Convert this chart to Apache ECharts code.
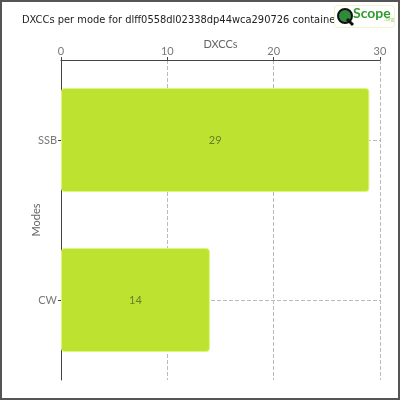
<!DOCTYPE html>
<html>
<head>
<meta charset="utf-8">
<script src="https://cdn.jsdelivr.net/npm/echarts@6/dist/echarts.min.js"></script>
<style>
  html, body { margin: 0; padding: 0; background: #fff; }
  #main { width: 396px; height: 396px; border: 2px solid #555; }
</style>
</head>
<body>
<div id="main"></div>
<script>
// chart data
var modes = ['SSB', 'CW'];
var dxccs = [29, 14];
var xTicks = [0, 10, 20, 30];

var font = 'Lato, "Open Sans", sans-serif';
var chart = echarts.init(document.getElementById('main'));

var option = {
    animation: false,
    textStyle: { fontFamily: font },
    title: {
        text: 'DXCCs per mode for dlff0558dl02338dp44wca290726 containe',
        left: 15,
        top: 8,
        textStyle: { fontSize: 11, fontWeight: 'normal', color: '#222', fontFamily: '"DejaVu Sans Condensed", sans-serif' }
    },
    graphic: [{
        type: 'rect',
        left: 332, top: 3,
        shape: { width: 60, height: 22, r: 3 },
        style: { fill: '#fff', stroke: '#eef5c8', lineWidth: 1 },
        z: 100
    }, {
        type: 'circle',
        left: 335, top: 6,
        shape: { r: 7 },
        style: { fill: '#2e8b3a', stroke: '#111', lineWidth: 2 },
        z: 101
    }, {
        type: 'line',
        shape: { x1: 345, y1: 17, x2: 351, y2: 23 },
        style: { stroke: '#111', lineWidth: 3 },
        z: 101
    }, {
        type: 'text',
        left: 351, top: 4,
        style: { text: 'Scope', fill: '#2d9b2d', fontSize: 14, fontWeight: 'bold', fontFamily: font },
        z: 101
    }, {
        type: 'text',
        left: 382, top: 14,
        style: { text: '.org', fill: '#9ccf6a', fontSize: 6, fontFamily: font },
        z: 101
    }],
    grid: { left: 59, right: 18, top: 58, bottom: 18 },
    xAxis: {
        type: 'value',
        position: 'top',
        min: 0, max: 30, interval: 10,
        name: 'DXCCs',
        nameLocation: 'middle',
        nameGap: 10,
        nameMoveOverlap: false,
        nameTextStyle: { color: '#666', fontSize: 11 },
        axisLine: { show: true, lineStyle: { color: '#444' } },
        axisTick: { show: true, length: 3, lineStyle: { color: '#444' } },
        axisLabel: {
            margin: 3, color: '#777', fontSize: 11,
            customValues: xTicks
        },
        splitLine: { show: true, lineStyle: { type: 'dashed', color: '#bbb' } }
    },
    yAxis: {
        type: 'category',
        data: modes,
        inverse: true,
        name: 'Modes',
        nameLocation: 'middle',
        nameGap: 19,
        nameMoveOverlap: false,
        nameTextStyle: { color: '#666', fontSize: 11 },
        axisLine: { show: true, lineStyle: { color: '#444' } },
        axisTick: { show: true, alignWithLabel: true, length: 3, lineStyle: { color: '#444' } },
        axisLabel: { margin: 4, color: '#777', fontSize: 11 },
        splitLine: { show: false }
    },
    series: [{
        name: 'DXCCs',
        type: 'bar',
        data: dxccs,
        barWidth: '65%',
        itemStyle: {
            color: '#bde22f',
            borderColor: '#dcf77a',
            borderWidth: 1,
            borderRadius: 3
        },
        label: {
            show: true,
            position: 'inside',
            color: '#6a7d2a',
            fontSize: 11
        },
        markLine: {
            silent: true,
            symbol: 'none',
            label: { show: false },
            lineStyle: { type: 'dashed', color: '#bbb', width: 1 },
            z: 1,
            data: modes.map(function (m) { return { yAxis: m }; })
        }
    }]
};

chart.setOption(option);
</script>
</body>
</html>
